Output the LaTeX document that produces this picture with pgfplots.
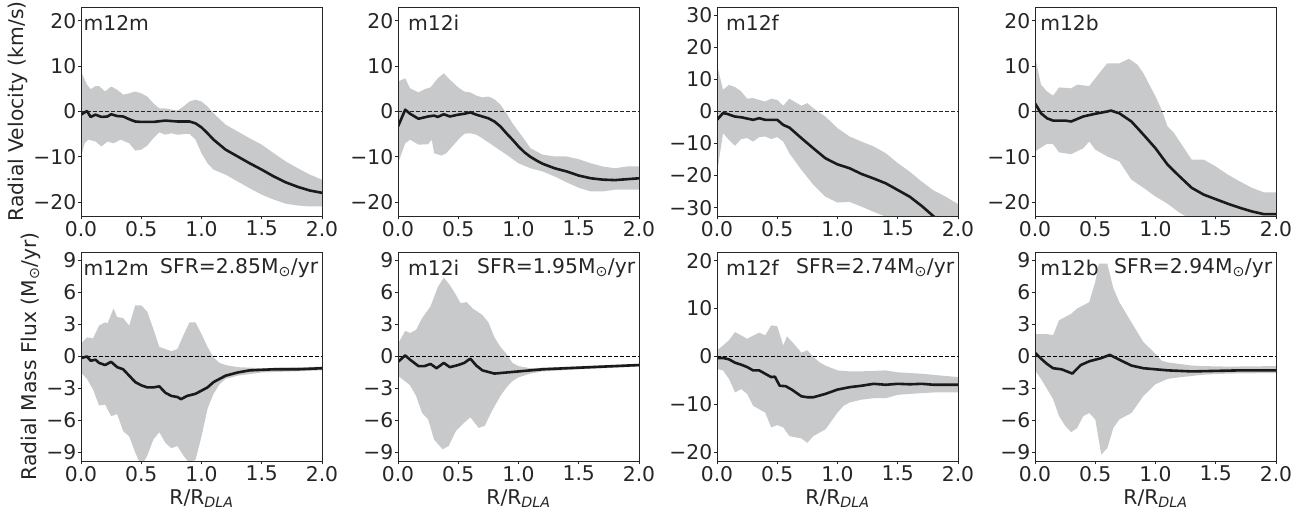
\documentclass[border=0pt]{standalone}
\usepackage{fontspec}
\setmainfont{DejaVu Sans}
\usepackage{pgfplots}
\pgfplotsset{compat=1.18}
\usepgfplotslibrary{fillbetween}
\definecolor{band}{RGB}{200,201,203}
\definecolor{meanc}{RGB}{26,26,26}
\definecolor{axc}{RGB}{38,38,38}
\newcommand{\fs}{\fontsize{20.3}{24}\selectfont}
\pgfplotsset{
  panel/.style={
    scale only axis, width=241pt, height=209pt,
    xmin=0, xmax=2, xtick={0,0.5,1,1.5,2}, xticklabels={0.0,0.5,1.0,1.5,2.0},
    tick align=outside, tick pos=left, major tick length=3.5pt,
    axis line style={line width=0.9pt, color=axc},
    every tick/.style={line width=0.9pt, color=axc},
    ticklabel style={font=\fs, text=axc, inner sep=1pt},
    xticklabel style={inner sep=1.5pt},
    axis on top,
  },
  toprow/.style={ymin=-23, ymax=23, ytick={-20,-10,0,10,20}, yticklabels={−20,−10,0,10,20}},
  botrow/.style={ymin=-9.8, ymax=9.8, ytick={-9,-6,-3,0,3,6,9}, yticklabels={−9,−6,−3,0,3,6,9},
     xlabel={R/R\textsubscript{\itshape DLA}},
     every axis x label/.style={at={(axis description cs:0.5,-0.135)}, anchor=north, inner sep=0pt, font=\fs, text=axc}},
  bandl/.style={draw=none, forget plot},
  meanl/.style={color=meanc, line width=2.6pt, line join=round},
  zerol/.style={color=axc, dashed, line width=0.8pt, dash pattern=on 4pt off 2pt},
}
\newcommand{\lab}[2]{\node[anchor=west, font=\fs, text=axc, inner sep=0pt] at (axis description cs:#1,0.925) {#2};}
\newcommand{\sfr}[1]{\node[anchor=east, font=\fs, text=axc, inner sep=0pt] at (axis description cs:0.985,0.925) {SFR=#1M\textsubscript{⊙}/yr};}
\begin{document}
\begin{tikzpicture}
\path (0,0) rectangle (1309pt,513pt);
% ---------------- Panel 1 top: m12m
\begin{axis}[panel, toprow, at={(81pt,297pt)}, anchor=south west,
  ylabel={Radial Velocity (km/s)},
  every axis y label/.style={at={(axis description cs:-0.305,0.5)}, rotate=90, anchor=north, inner sep=0pt, font=\fs, text=axc}]
\addplot[bandl, name path=u] table {
0 8.8
0.05 5.9
0.08 4.9
0.12 5.6
0.15 5.6
0.2 4.4
0.25 5.5
0.3 4.8
0.35 3.7
0.4 4.0
0.45 4.4
0.5 4.0
0.55 3.3
0.6 1.8
0.65 0.7
0.7 0.7
0.75 0.4
0.8 0.2
0.85 1.1
0.9 2.2
0.95 2.6
1.0 2.2
1.05 1.1
1.1 -0.4
1.2 -2.9
1.3 -4.4
1.4 -5.9
1.5 -7.3
1.6 -9.2
1.7 -11.0
1.8 -12.5
1.9 -13.9
2.0 -15.0
};
\addplot[bandl, name path=l] table {
0 -9.9
0.03 -7.0
0.06 -6.2
0.12 -6.6
0.17 -7.7
0.22 -6.6
0.27 -7.0
0.33 -6.2
0.4 -7.0
0.45 -8.6
0.5 -8.4
0.55 -7.5
0.6 -5.9
0.65 -4.6
0.7 -5.1
0.75 -4.8
0.8 -5.1
0.9 -4.9
0.95 -6.2
1.0 -9.2
1.05 -11.4
1.1 -12.8
1.2 -13.9
1.3 -15.4
1.4 -16.9
1.5 -18.3
1.6 -19.4
1.7 -20.3
1.8 -20.7
1.9 -20.9
2.0 -20.9
};
\addplot[band, forget plot] fill between[of=u and l];
\addplot[zerol] coordinates {(0,0) (2,0)};
\addplot[meanl] table {
0 -0.7
0.03 -0.2
0.05 0.1
0.08 -1.2
0.12 -0.7
0.17 -1.2
0.22 -1.1
0.25 -0.6
0.3 -1.0
0.35 -1.1
0.4 -1.7
0.45 -2.2
0.5 -2.3
0.6 -2.3
0.7 -2.0
0.8 -2.2
0.9 -2.2
0.95 -2.6
1.0 -3.5
1.05 -4.8
1.1 -6.2
1.2 -8.4
1.3 -9.9
1.4 -11.4
1.5 -12.8
1.6 -14.3
1.7 -15.6
1.8 -16.6
1.9 -17.4
2.0 -17.9
};
\lab{0.01}{m12m}
\end{axis}
% ---------------- Panel 2 top: m12i
\begin{axis}[panel, toprow, at={(398pt,297pt)}, anchor=south west]
\addplot[bandl, name path=u] table {
0 6.6
0.06 7.3
0.1 5.1
0.17 4.2
0.22 4.9
0.27 5.3
0.33 7.3
0.38 8.4
0.43 7.0
0.5 5.3
0.55 4.4
0.6 4.2
0.65 3.5
0.7 3.1
0.75 3.3
0.8 2.7
0.85 1.5
0.9 -0.4
0.95 -2.6
1.0 -4.4
1.05 -6.2
1.1 -8.1
1.2 -9.5
1.3 -9.9
1.4 -9.9
1.5 -10.5
1.6 -11.4
1.7 -12.1
1.8 -12.5
1.9 -12.1
2.0 -12.1
};
\addplot[bandl, name path=l] table {
0 -11.4
0.06 -7.0
0.1 -6.2
0.17 -7.3
0.25 -7.2
0.28 -6.2
0.3 -9.2
0.36 -9.7
0.4 -9.2
0.45 -7.7
0.5 -6.2
0.55 -4.9
0.6 -4.8
0.65 -5.1
0.7 -5.9
0.8 -7.7
0.9 -9.5
1.0 -11.4
1.1 -12.5
1.2 -13.2
1.3 -14.3
1.4 -15.6
1.5 -16.8
1.6 -17.6
1.7 -17.6
1.8 -17.2
1.9 -17.2
2.0 -17.2
};
\addplot[band, forget plot] fill between[of=u and l];
\addplot[zerol] coordinates {(0,0) (2,0)};
\addplot[meanl] table {
0 -3.3
0.06 0.4
0.1 -0.5
0.17 -1.6
0.25 -1.1
0.3 -0.9
0.33 -1.2
0.38 -0.6
0.43 -1.1
0.5 -0.7
0.55 -0.5
0.6 -0.2
0.65 -0.7
0.7 -1.1
0.75 -1.5
0.8 -2.2
0.85 -3.3
0.9 -4.8
0.95 -6.2
1.0 -7.7
1.05 -9.0
1.1 -10.0
1.15 -10.8
1.2 -11.5
1.3 -12.5
1.4 -13.2
1.5 -14.1
1.6 -14.7
1.7 -15.0
1.8 -15.1
1.9 -14.9
2.0 -14.7
};
\lab{0.041}{m12i}
\end{axis}
% ---------------- Panel 3 top: m12f
\begin{axis}[panel, at={(717pt,297pt)}, anchor=south west,
  ymin=-32.6, ymax=32.6, ytick={-30,-20,-10,0,10,20,30}, yticklabels={−30,−20,−10,0,10,20,30}]
\addplot[bandl, name path=u] table {
0 14.6
0.05 6.8
0.1 8.3
0.15 7.6
0.2 6.3
0.25 4.0
0.3 4.2
0.35 3.6
0.4 3.1
0.45 4.0
0.5 3.6
0.55 1.8
0.6 4.0
0.7 1.8
0.75 2.6
0.8 1.0
0.9 -1.6
1.0 -5.2
1.1 -7.8
1.2 -9.4
1.3 -10.9
1.4 -13.0
1.5 -16.1
1.6 -18.8
1.7 -21.9
1.8 -24.7
1.9 -26.6
2.0 -28.9
};
\addplot[bandl, name path=l] table {
0 -19.3
0.05 -6.8
0.1 -8.9
0.15 -10.7
0.2 -8.6
0.25 -8.3
0.3 -9.4
0.35 -8.0
0.4 -7.8
0.45 -8.6
0.5 -8.0
0.55 -9.4
0.6 -13.0
0.7 -18.2
0.8 -22.9
0.9 -26.6
1.0 -28.4
1.1 -28.2
1.2 -29.7
1.3 -31.3
1.4 -32.8
1.5 -34.5
1.6 -36.0
1.8 -39.0
2.0 -41.0
};
\addplot[band, forget plot] fill between[of=u and l];
\addplot[zerol] coordinates {(0,0) (2,0)};
\addplot[meanl] table {
0 -2.6
0.05 -0.5
0.08 -0.7
0.15 -1.6
0.2 -1.8
0.3 -2.6
0.35 -2.1
0.4 -2.6
0.5 -2.6
0.55 -4.2
0.6 -5.0
0.7 -8.3
0.8 -11.5
0.9 -14.6
1.0 -16.5
1.1 -17.7
1.2 -19.5
1.3 -20.9
1.4 -22.4
1.5 -24.5
1.6 -26.6
1.7 -29.5
1.8 -32.8
1.9 -35.5
2.0 -38.0
};
\lab{0.037}{m12f}
\end{axis}
% ---------------- Panel 4 top: m12b
\begin{axis}[panel, toprow, at={(1035pt,297pt)}, anchor=south west]
\addplot[bandl, name path=u] table {
0 12.1
0.05 5.9
0.1 4.4
0.15 3.5
0.2 5.3
0.3 5.1
0.35 5.9
0.45 5.6
0.5 7.3
0.55 9.0
0.6 10.6
0.7 10.6
0.78 11.6
0.85 10.3
0.9 8.4
1.0 3.3
1.05 0.4
1.1 -3.3
1.15 -4.6
1.2 -6.6
1.3 -10.6
1.4 -10.6
1.5 -12.1
1.6 -13.9
1.7 -15.4
1.8 -16.8
1.9 -17.8
2.0 -17.8
};
\addplot[bandl, name path=l] table {
0 -8.8
0.1 -7.1
0.15 -7.2
0.2 -9.0
0.3 -9.4
0.4 -8.1
0.45 -6.6
0.5 -8.4
0.6 -9.9
0.7 -11.0
0.8 -15.0
0.9 -16.8
1.0 -18.7
1.1 -20.3
1.2 -22.3
1.3 -23.8
1.4 -25.0
1.6 -27.0
1.8 -28.0
2.0 -29.0
};
\addplot[band, forget plot] fill between[of=u and l];
\addplot[zerol] coordinates {(0,0) (2,0)};
\addplot[meanl] table {
0 1.8
0.05 -0.4
0.1 -1.5
0.15 -2.0
0.2 -2.0
0.25 -2.0
0.3 -2.2
0.4 -1.1
0.5 -0.5
0.6 0.0
0.63 0.2
0.7 -0.4
0.8 -2.2
0.9 -5.1
1.0 -8.1
1.1 -11.7
1.2 -14.3
1.3 -16.8
1.4 -18.3
1.5 -19.3
1.6 -20.3
1.7 -21.2
1.8 -22.0
1.9 -22.6
2.0 -22.6
};
\lab{0.021}{m12b}
\end{axis}
% ---------------- Panel 5 bottom: m12m
\begin{axis}[panel, botrow, at={(81pt,52pt)}, anchor=south west,
  ylabel={Radial Mass Flux (M\textsubscript{⊙}/yr)},
  every axis y label/.style={at={(axis description cs:-0.251,0.5)}, rotate=90, anchor=north, inner sep=0pt, font=\fs, text=axc}]
\addplot[bandl, name path=u] table {
0 1.2
0.05 1.8
0.1 1.7
0.15 2.9
0.2 3.2
0.22 3.1
0.27 4.5
0.3 3.7
0.35 3.6
0.4 2.9
0.45 4.8
0.5 4.8
0.55 4.2
0.6 2.6
0.65 0.9
0.7 0.7
0.75 0.5
0.8 0.7
0.85 2.0
0.9 3.2
0.95 3.2
1.0 2.1
1.05 0.9
1.1 -0.1
1.15 -0.6
1.2 -0.8
1.3 -1.0
1.5 -1.1
2.0 -0.95
};
\addplot[bandl, name path=l] table {
0 -1.5
0.05 -2.1
0.1 -3.1
0.15 -4.6
0.2 -4.5
0.25 -5.6
0.3 -5.4
0.35 -7.0
0.4 -7.5
0.45 -9.0
0.5 -10.3
0.55 -9.3
0.6 -7.8
0.65 -7.1
0.7 -8.1
0.75 -8.6
0.8 -8.4
0.85 -9.3
0.9 -10.0
0.95 -9.7
1.0 -7.5
1.05 -4.9
1.1 -3.5
1.15 -2.6
1.2 -2.1
1.3 -1.8
1.5 -1.5
2.0 -1.3
};
\addplot[band, forget plot] fill between[of=u and l];
\addplot[zerol, color=black] coordinates {(0,0) (2,0)};
\addplot[meanl] table {
0 -0.15
0.05 0.0
0.08 -0.4
0.12 -0.3
0.15 -0.6
0.2 -0.8
0.25 -0.5
0.3 -1.0
0.35 -1.2
0.4 -1.8
0.45 -2.4
0.5 -2.7
0.55 -2.9
0.6 -2.9
0.65 -2.8
0.7 -3.4
0.75 -3.7
0.8 -3.8
0.83 -4.0
0.88 -3.7
0.95 -3.5
1.0 -3.2
1.05 -2.9
1.1 -2.4
1.2 -1.8
1.3 -1.5
1.4 -1.3
1.5 -1.25
1.6 -1.2
1.8 -1.2
2.0 -1.1
};
\lab{0.01}{m12m}
\sfr{2.85}
\end{axis}
% ---------------- Panel 6 bottom: m12i
\begin{axis}[panel, botrow, at={(398pt,52pt)}, anchor=south west]
\addplot[bandl, name path=u] table {
0 1.2
0.06 2.4
0.1 2.2
0.15 2.5
0.2 3.6
0.27 4.7
0.33 6.5
0.38 7.4
0.43 6.7
0.48 5.8
0.52 5.0
0.57 5.1
0.62 4.5
0.7 3.9
0.75 3.2
0.8 1.8
0.85 0.9
0.9 0.25
0.95 -0.6
1.0 -0.9
1.1 -1.1
1.3 -1.0
2.0 -0.7
};
\addplot[bandl, name path=l] table {
0 -1.8
0.1 -2.7
0.15 -3.7
0.2 -5.3
0.25 -5.9
0.3 -7.8
0.37 -8.7
0.42 -8.4
0.48 -7.0
0.55 -6.2
0.6 -5.7
0.67 -6.7
0.72 -6.5
0.78 -5.1
0.85 -3.7
0.9 -2.9
0.95 -2.3
1.0 -1.95
1.1 -1.6
1.2 -1.4
1.5 -1.2
2.0 -0.95
};
\addplot[band, forget plot] fill between[of=u and l];
\addplot[zerol, color=black] coordinates {(0,0) (2,0)};
\addplot[meanl] table {
0 -0.5
0.06 0.1
0.1 -0.3
0.17 -0.9
0.22 -0.9
0.27 -0.7
0.32 -1.1
0.38 -0.6
0.43 -1.0
0.5 -0.8
0.55 -0.6
0.6 -0.2
0.65 -0.85
0.7 -1.3
0.8 -1.6
0.9 -1.5
1.0 -1.4
1.2 -1.2
1.4 -1.1
1.6 -1.0
1.8 -0.9
2.0 -0.8
};
\lab{0.041}{m12i}
\sfr{1.95}
\end{axis}
% ---------------- Panel 7 bottom: m12f
\begin{axis}[panel, botrow, at={(717pt,52pt)}, anchor=south west,
  ymin=-21.8, ymax=21.8, ytick={-20,-10,0,10,20}, yticklabels={−20,−10,0,10,20}]
\addplot[bandl, name path=u] table {
0 1.3
0.05 2.3
0.1 3.4
0.15 5.1
0.25 3.7
0.35 5.0
0.4 4.4
0.45 6.5
0.5 6.3
0.55 2.3
0.58 4.2
0.65 2.3
0.7 0.8
0.75 1.3
0.8 -0.1
0.85 -1.2
0.9 -1.9
1.0 -2.9
1.1 -3.1
1.2 -3.1
1.4 -2.9
1.5 -3.3
1.7 -3.6
2.0 -4.3
};
\addplot[bandl, name path=l] table {
0 -2.6
0.05 -2.9
0.1 -4.7
0.15 -7.5
0.2 -6.8
0.25 -7.8
0.3 -10.3
0.35 -11.0
0.4 -11.7
0.45 -14.8
0.5 -14.3
0.55 -14.8
0.6 -16.6
0.7 -17.1
0.75 -18.0
0.8 -16.6
0.9 -15.2
1.0 -11.7
1.05 -10.3
1.1 -9.6
1.2 -9.0
1.3 -8.7
1.4 -8.7
1.5 -8.0
1.6 -7.8
1.8 -7.5
2.0 -7.5
};
\addplot[band, forget plot] fill between[of=u and l];
\addplot[zerol, color=black] coordinates {(0,0) (2,0)};
\addplot[meanl] table {
0 -0.35
0.05 -0.3
0.1 -0.6
0.15 -1.3
0.2 -1.7
0.25 -2.2
0.3 -2.9
0.35 -2.9
0.4 -3.6
0.45 -4.3
0.48 -4.2
0.52 -6.1
0.57 -6.2
0.62 -6.9
0.7 -8.3
0.75 -8.5
0.8 -8.5
0.9 -7.8
1.0 -6.9
1.1 -6.4
1.2 -6.1
1.3 -5.7
1.4 -5.9
1.5 -5.7
1.6 -5.8
1.7 -5.7
1.8 -5.9
1.9 -5.9
2.0 -5.9
};
\lab{0.037}{m12f}
\sfr{2.74}
\end{axis}
% ---------------- Panel 8 bottom: m12b
\begin{axis}[panel, botrow, at={(1035pt,52pt)}, anchor=south west]
\addplot[bandl, name path=u] table {
0 2.1
0.05 2.1
0.1 2.1
0.15 2.0
0.2 3.4
0.25 3.7
0.3 4.0
0.35 4.5
0.4 4.8
0.45 5.1
0.5 7.0
0.53 8.7
0.6 8.7
0.65 6.4
0.7 5.1
0.8 3.2
0.9 1.35
1.0 0.25
1.05 -0.4
1.1 -0.55
1.2 -0.7
1.3 -0.85
1.4 -0.9
1.6 -0.95
2.0 -0.9
};
\addplot[bandl, name path=l] table {
0 -1.3
0.05 -2.1
0.1 -3.05
0.15 -4.0
0.2 -5.6
0.25 -6.5
0.3 -7.1
0.35 -6.7
0.4 -5.6
0.45 -5.3
0.5 -5.9
0.55 -9.2
0.6 -8.6
0.65 -6.7
0.7 -5.9
0.8 -5.3
0.9 -3.7
1.0 -2.6
1.1 -2.1
1.2 -1.95
1.4 -1.7
1.6 -1.6
2.0 -1.55
};
\addplot[band, forget plot] fill between[of=u and l];
\addplot[zerol, color=black] coordinates {(0,0) (2,0)};
\addplot[meanl] table {
0 0.35
0.05 -0.2
0.1 -0.7
0.15 -1.1
0.22 -1.2
0.31 -1.6
0.38 -0.8
0.45 -0.45
0.5 -0.3
0.55 -0.15
0.62 0.15
0.7 -0.3
0.8 -0.85
0.9 -1.1
1.0 -1.2
1.1 -1.3
1.2 -1.35
1.3 -1.4
1.5 -1.35
1.7 -1.3
2.0 -1.3
};
\lab{0.021}{m12b}
\sfr{2.94}
\end{axis}
\end{tikzpicture}
\end{document}
